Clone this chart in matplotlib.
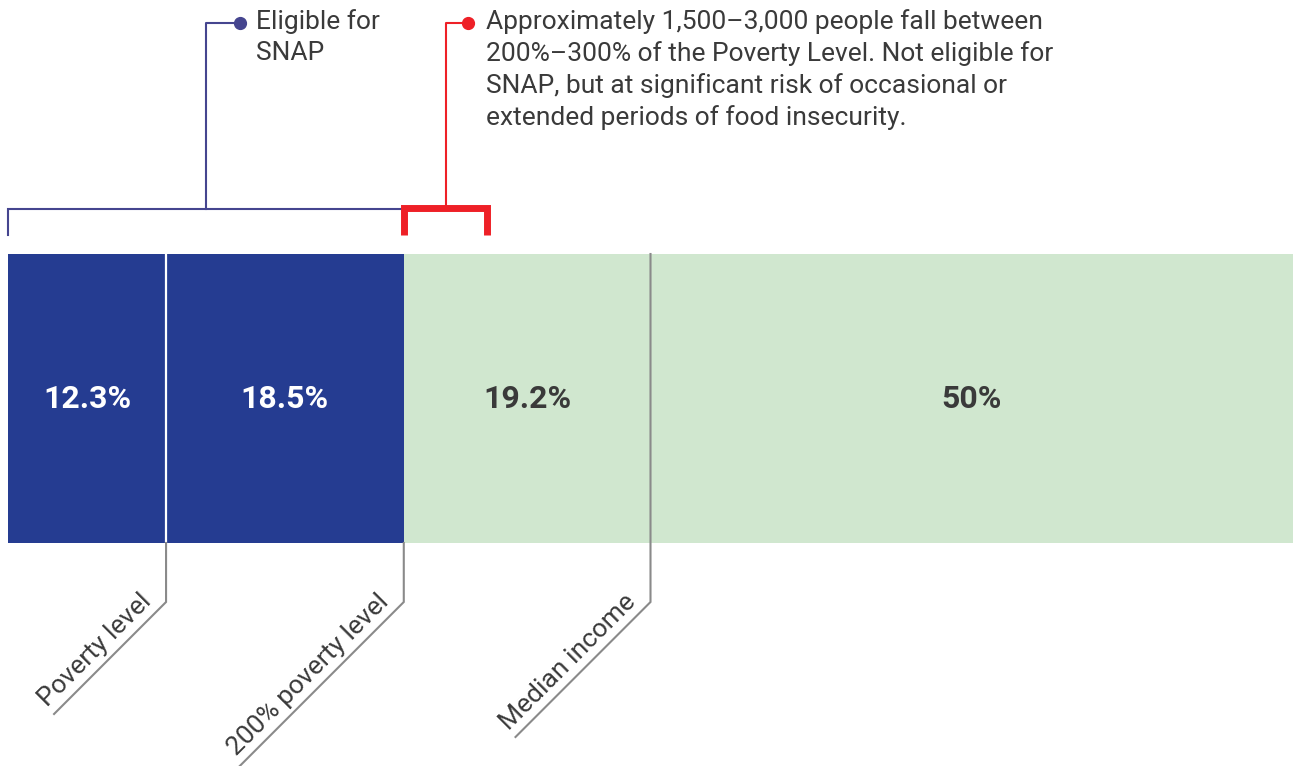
import numpy as np
import matplotlib.pyplot as plt

# データ
shares = [12.3, 18.5, 19.2, 50]
share_labels = ['12.3%', '18.5%', '19.2%', '50%']
seg_colors = ['#253c91', '#253c91', '#d0e7cf', '#d0e7cf']
label_colors = ['white', 'white', '#3a3a3a', '#3a3a3a']

marker_pos = [12.3, 30.8, 50.0]
marker_names = ['Poverty level', '200% poverty level', 'Median income']

snap_range = [0, 30.8]
risk_range = [30.8, 37.3]
snap_text = 'Eligible for\nSNAP'
risk_text = ('Approximately 1,500\u20133,000 people fall between\n'
             '200%\u2013300% of the Poverty Level. Not eligible for\n'
             'SNAP, but at significant risk of occasional or\n'
             'extended periods of food insecurity.')

# レイアウト (pixel)
W, H = 1293, 766
PX = 12.85            # px per percent
X0 = 8
BAR_TOP, BAR_BOT = 254, 543
CORNER_Y = 602
diag_len = [112, 175, 135]
line_tops = [BAR_BOT, BAR_BOT, BAR_TOP]

plt.rcParams['font.family'] = ['Roboto', 'DejaVu Sans']

fig = plt.figure(figsize=(W / 100, H / 100), dpi=100)
ax = fig.add_axes([0, 0, 1, 1])
ax.set_xlim(-X0 / PX, (W - X0) / PX)
ax.set_ylim(H, 0)
ax.axis('off')

# 横棒
lefts = np.concatenate([[0], np.cumsum(shares)[:-1]])
ax.barh((BAR_TOP + BAR_BOT) / 2, shares, left=lefts, height=BAR_BOT - BAR_TOP,
        color=seg_colors, linewidth=0)
ax.plot([marker_pos[0]] * 2, [BAR_TOP, BAR_BOT], color='white', lw=1.6)
for l, s, t, c in zip(lefts, shares, share_labels, label_colors):
    ax.text(l + s / 2, (BAR_TOP + BAR_BOT) / 2, t, color=c, fontsize=23,
            fontweight='bold', ha='center', va='center')

# 下の目盛り線とラベル
gray = '#8a8a8a'
for pos, name, L, top in zip(marker_pos, marker_names, diag_len, line_tops):
    ax.plot([pos, pos, pos - L / PX], [top, CORNER_Y, CORNER_Y + L],
            color=gray, lw=1.5, solid_joinstyle='miter', clip_on=False)
    ax.text(pos - 14 / PX, CORNER_Y + 1, name, rotation=45,
            rotation_mode='anchor', ha='right', va='baseline',
            fontsize=19, color='#3a3a3a')

# SNAP ブラケット
indigo = '#45458f'
mid = (snap_range[0] + snap_range[1]) / 2
ax.plot([snap_range[0], snap_range[0], snap_range[1]], [235, 209, 209],
        color=indigo, lw=1.5, solid_joinstyle='miter')
ax.plot([mid, mid, mid + 34 / PX], [209, 23, 23], color=indigo, lw=1.5)
ax.plot(mid + 34 / PX, 23, 'o', color=indigo, ms=8.5)
ax.text(mid + 50 / PX, 9, snap_text, fontsize=19, color='#3a3a3a',
        va='top', ha='left', linespacing=1.36)

# リスク ブラケット
red = '#ee2027'
rmid = (risk_range[0] + risk_range[1]) / 2
ax.plot([risk_range[0], risk_range[0], risk_range[1], risk_range[1]],
        [235, 208, 208, 235], color=red, lw=5, solid_joinstyle='miter',
        solid_capstyle='butt')
ax.plot([rmid, rmid, rmid + 22 / PX], [208, 23, 23], color=red, lw=1.5)
ax.plot(rmid + 22 / PX, 23, 'o', color=red, ms=8.5)
ax.text(rmid + 40 / PX, 9, risk_text, fontsize=19, color='#3a3a3a',
        va='top', ha='left', linespacing=1.36)

fig.savefig('out.png', dpi=100)
